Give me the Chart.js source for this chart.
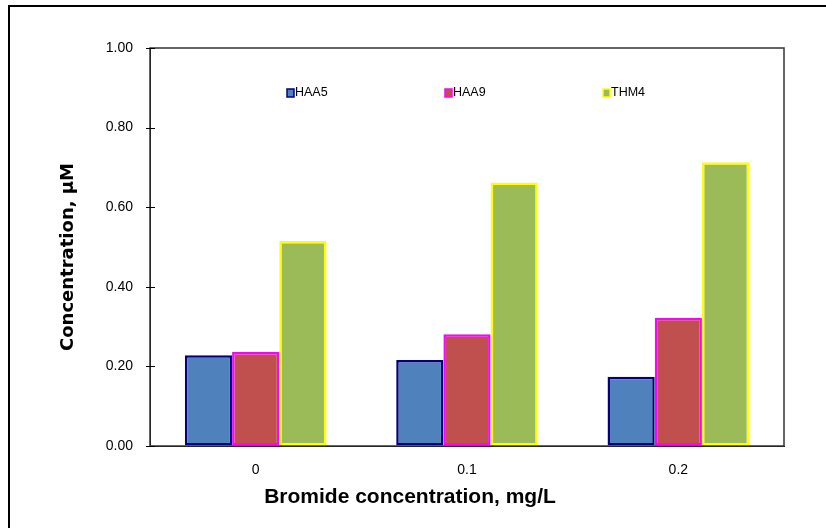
<!DOCTYPE html>
<html>
<head>
<meta charset="utf-8">
<script src="https://cdn.jsdelivr.net/npm/chart.js@4/dist/chart.umd.min.js"></script>
<style>
    html, body { margin: 0; padding: 0; background: #fff; }
    #wrap { position: relative; width: 826px; height: 528px; overflow: hidden; }
    #frame { position: absolute; left: 8px; top: 5px; width: 900px; height: 600px; border: 2px solid #000; box-sizing: border-box; }
    canvas { position: absolute; left: 0; top: 0; }
</style>
</head>
<body>
<div id="wrap">
    <div id="frame"></div>
    <canvas id="chart" width="826" height="528"></canvas>
</div>
<script>
// Data
const categories = ['0', '0.1', '0.2'];
const haa5 = [0.228, 0.216, 0.174];
const haa9 = [0.236, 0.281, 0.322];
const thm4 = [0.515, 0.662, 0.713];
const yTicks = [0, 0.2, 0.4, 0.6, 0.8, 1.0];

const colors = {
    blue: '#4F81BD', navy: '#000080',
    red: '#C0504D', magenta: '#FF00FF',
    green: '#9BBB59', yellow: '#FFFF00'
};

const font = 'Liberation Sans, Arial, sans-serif';

// plot frame, crossing ticks on the y axis, legend and axis titles
const extras = {
    id: 'extras',
    afterDraw(chart) {
        const { ctx, chartArea: a, scales } = chart;
        ctx.save();

        // plot frame
        ctx.strokeStyle = '#333';
        ctx.lineWidth = 1.5;
        ctx.strokeRect(a.left, a.top, a.right - a.left, a.bottom - a.top);

        // y ticks crossing the axis
        ctx.strokeStyle = '#000';
        ctx.lineWidth = 1;
        yTicks.forEach(v => {
            const y = Math.round(scales.y.getPixelForValue(v)) + 0.5;
            ctx.beginPath();
            ctx.moveTo(a.left - 4, y);
            ctx.lineTo(a.left + 5, y);
            ctx.stroke();
        });

        // legend inside the plot
        const legendX = [287, 445, 603];
        const legendY = 93;
        ctx.font = '12.5px ' + font;
        ctx.textBaseline = 'middle';
        chart.data.datasets.forEach((ds, i) => {
            const x = legendX[i];
            ctx.fillStyle = ds.backgroundColor;
            ctx.fillRect(x, legendY - 4, 7, 8);
            ctx.strokeStyle = ds.borderColor;
            ctx.lineWidth = 1.5;
            ctx.strokeRect(x, legendY - 4, 7, 8);
            ctx.fillStyle = '#000';
            ctx.fillText(ds.label, x + 8, legendY);
        });

        // axis titles
        ctx.fillStyle = '#000';
        ctx.textAlign = 'center';
        ctx.font = 'bold 21px ' + font;
        ctx.fillText('Bromide concentration, mg/L', 410, 497);

        ctx.translate(68, 257);
        ctx.rotate(-Math.PI / 2);
        ctx.font = 'bold 18px DejaVu Sans, Verdana, sans-serif';
        ctx.fillText('Concentration, µM', 0, 0);

        ctx.restore();
    }
};

const ctx = document.getElementById('chart').getContext('2d');
new Chart(ctx, {
    type: 'bar',
    data: {
        labels: categories,
        datasets: [
            { label: 'HAA5', data: haa5, backgroundColor: colors.blue, borderColor: colors.navy },
            { label: 'HAA9', data: haa9, backgroundColor: colors.red, borderColor: colors.magenta },
            { label: 'THM4', data: thm4, backgroundColor: colors.green, borderColor: colors.yellow }
        ]
    },
    options: {
        responsive: false,
        animation: false,
        devicePixelRatio: 1,
        layout: { padding: { left: 58, right: 42, top: 48, bottom: 0 } },
        datasets: {
            bar: {
                borderWidth: 2.5,
                borderSkipped: false,
                categoryPercentage: 0.67,
                barPercentage: 1
            }
        },
        plugins: {
            legend: { display: false },
            tooltip: { enabled: false }
        },
        scales: {
            x: {
                grid: { display: false, drawTicks: false },
                border: { display: true, color: '#000', width: 1 },
                ticks: { color: '#000', font: { family: font, size: 14 }, padding: 16 },
                afterFit: s => { s.height = 82; }
            },
            y: {
                min: 0,
                max: 1,
                grid: { drawOnChartArea: false, drawTicks: false },
                border: { display: true, color: '#000', width: 1 },
                ticks: {
                    stepSize: 0.2,
                    color: '#000',
                    padding: 17,
                    font: { family: font, size: 14 },
                    callback: v => v.toFixed(2)
                },
                afterFit: s => { s.width = 92; }
            }
        }
    },
    plugins: [extras]
});
</script>
</body>
</html>
